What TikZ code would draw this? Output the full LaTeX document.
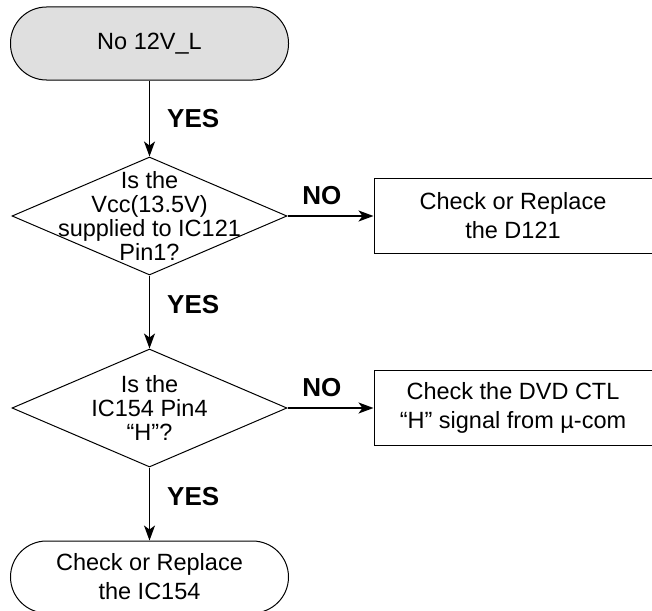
\documentclass[tikz,border=0pt]{standalone}
\usepackage{fontspec}
\setmainfont{Liberation Sans}
\usetikzlibrary{shapes.geometric, arrows.meta, positioning}

\newcommand{\boxfont}{\fontsize{23.5}{29}\selectfont}
\newcommand{\askfont}{\fontsize{23.5}{24}\selectfont}
\newcommand{\tagfont}{\fontsize{26}{30}\selectfont\bfseries}

\begin{document}
\begin{tikzpicture}[
        x=1pt, y=1pt,
        node distance=73pt,
        terminal/.style={rectangle, draw, line width=1pt, rounded corners=36pt, minimum width=278pt, minimum height=73pt, align=center, font=\boxfont},
        decision/.style={diamond, draw, line width=1pt, minimum width=275pt, minimum height=118pt, inner sep=0pt},
        asktext/.style={align=center, font=\askfont, inner sep=0pt},
        box/.style={rectangle, draw, line width=1pt, minimum width=278pt, minimum height=75pt, align=center, font=\boxfont},
        arrow/.style={-{Stealth[length=15pt, width=11pt, inset=4pt]}, line width=1.4pt},
        yes/.style={font=\tagfont, anchor=west, inner sep=0pt, xshift=17pt},
        no/.style={font=\tagfont, anchor=south, inner sep=0pt, yshift=11pt}
    ]
    \useasboundingbox (0,0) rectangle (652,-610);

    \node (start) [terminal, fill=gray!25] at (149.5,-43.5) {No 12V\_L};
    \node (ask1) [decision, below=76pt of start] {};
    \node (ask1text) [asktext] at (ask1.center) {Is the\\Vcc(13.5V)\\supplied to IC121\\Pin1?};
    \node (fix1) [box, right=86pt of ask1] {Check or Replace\\the D121};
    \node (ask2) [decision, below=of ask1] {};
    \node (ask2text) [asktext] at (ask2.center) {Is the\\IC154 Pin4\\“H”?};
    \node (fix2) [box, right=86pt of ask2] {Check the DVD CTL\\“H” signal from µ-com};
    \node (finish) [terminal, minimum height=72pt, below=of ask2] {Check or Replace\\the IC154};

    \draw[arrow] (start) -- node[yes] {YES} (ask1);
    \draw[arrow] (ask1) -- node[yes, pos=0.4] {YES} (ask2);
    \draw[arrow] (ask2) -- node[yes, pos=0.4] {YES} (finish);
    \draw[arrow] (ask1) -- node[no, pos=0.4] {NO} (fix1);
    \draw[arrow] (ask2) -- node[no, pos=0.4] {NO} (fix2);

\end{tikzpicture}
\end{document}
